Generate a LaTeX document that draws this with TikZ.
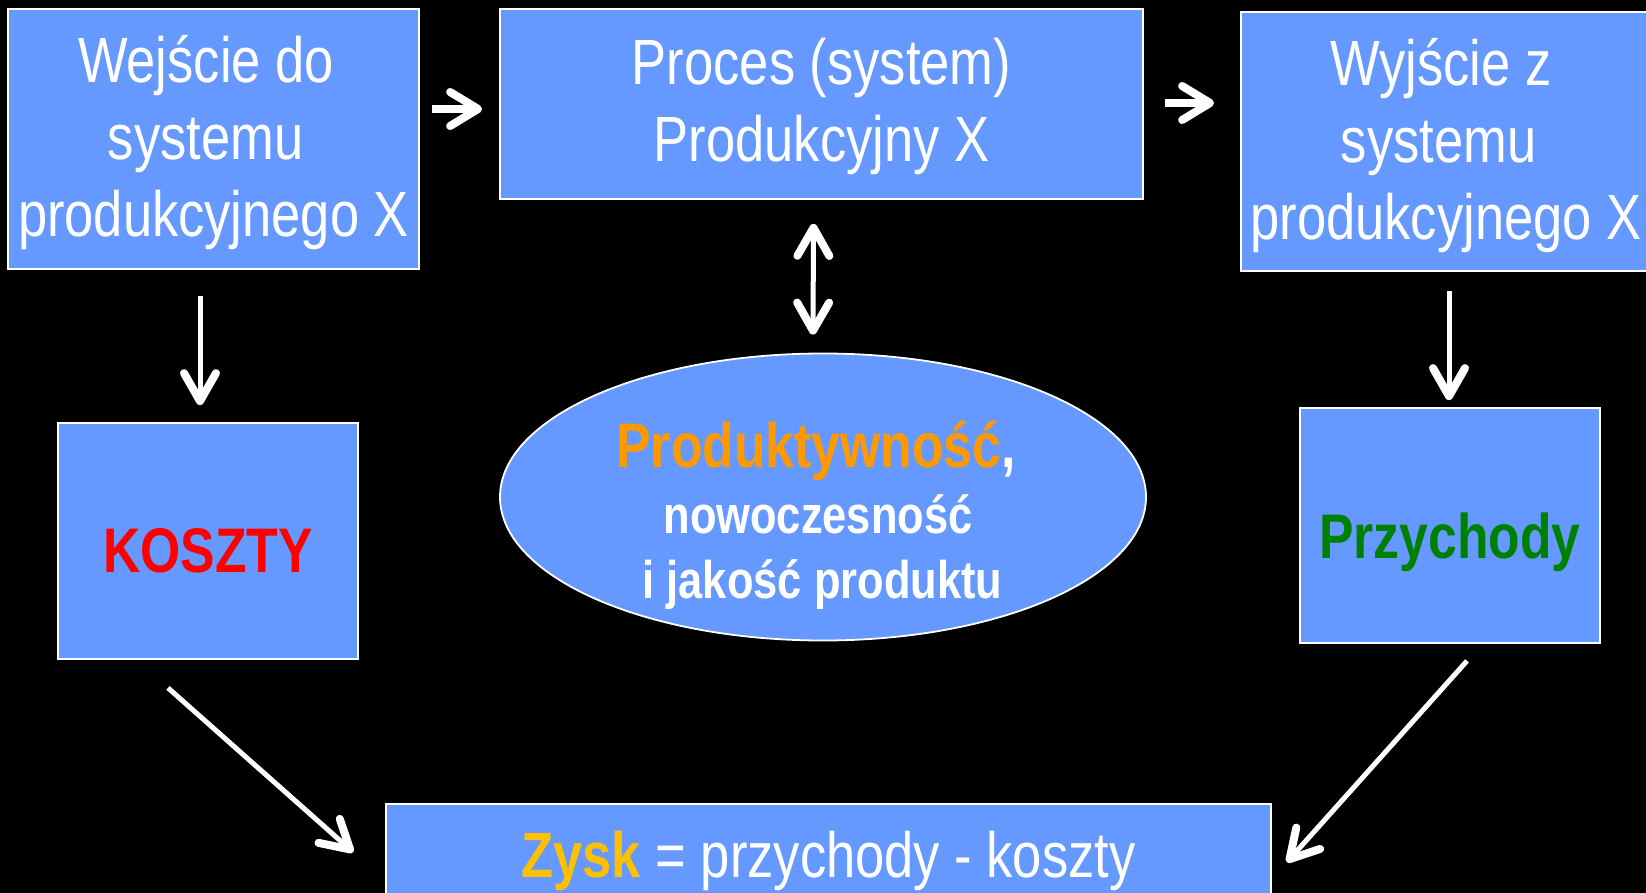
\documentclass[tikz,border=0pt]{standalone}
\usepackage{fontspec}
\setmainfont{Liberation Sans}[FakeStretch=0.82]
\usetikzlibrary{shapes.geometric,arrows.meta,calc}
\definecolor{boxblue}{RGB}{102,153,255}
\definecolor{prodorange}{RGB}{255,153,0}
\definecolor{zyskgold}{RGB}{255,192,0}
\definecolor{revgreen}{RGB}{0,128,0}
\begin{document}
\begin{tikzpicture}[x=1pt,y=-1pt,
  box/.style={rectangle, fill=boxblue, draw=white, line width=1.8pt, inner sep=0pt,
    align=center, text=white, font=\fontsize{64}{77}\selectfont},
  boldbig/.style={font=\fontsize{63}{75}\selectfont\bfseries},
  ellline/.style={anchor=base, inner sep=0pt, text=white, font=\fontsize{53}{62}\selectfont\bfseries},
  arrthick/.style={draw=white, line width=8pt,
    -{Straight Barb[length=28pt, width=34pt, line width=8pt, round]}},
  arrthin/.style={draw=white, line width=5pt,
    -{Straight Barb[length=28pt, width=32pt, line width=8pt, round]}},
  arrboth/.style={draw=white, line width=5pt,
    {Straight Barb[length=28pt, width=32pt, line width=8pt, round]}-{Straight Barb[length=28pt, width=32pt, line width=8pt, round]}}
]
\fill[black] (0,0) rectangle (1646,893);
\useasboundingbox (0,0) rectangle (1646,893);
\clip (0,0) rectangle (1646,893);

\node[box, minimum width=411pt, minimum height=260pt] (in) at (213.5,139)
  {\rule{0pt}{55pt}Wejście do\rule{15pt}{0pt}\\systemu\rule{16pt}{0pt}\\produkcyjnego X};
\node[box, minimum width=643pt, minimum height=190pt] (proc) at (821.5,104)
  {\rule{0pt}{51pt}Proces (system)\\Produkcyjny X};
\node[box, minimum width=410pt, minimum height=259pt] (out) at (1446,141.5)
  {\rule{0pt}{55pt}Wyjście z\rule{10pt}{0pt}\\systemu\rule{15pt}{0pt}\\produkcyjnego X};
\node[box, boldbig, text=red, minimum width=300pt, minimum height=236pt,
  text height=62pt, text depth=0pt] (cost) at (208,541) {KOSZTY};
\node[box, boldbig, text=revgreen, minimum width=300pt, minimum height=235pt,
  text height=65pt, text depth=0pt] (rev) at (1450,525.5) {Przychody};
\node[ellipse, fill=boxblue, draw=white, line width=1.8pt, inner sep=0pt,
  minimum width=646pt, minimum height=287pt] (ell) at (823,497) {};
\node[ellline, font=\fontsize{63}{75}\selectfont\bfseries] (l1) at (816,467)
  {\textcolor{prodorange}{Produktywność},};
\node[ellline] (l2) at (818,533) {nowoczesność};
\node[ellline] (l3) at (822.5,598) {i jakość produktu};
\node[box, minimum width=885pt, minimum height=126pt, text height=20pt, text depth=0pt]
  (profit) at (828.5,867) {\textbf{\textcolor{zyskgold}{Zysk}} = przychody - koszty};

\draw[arrthick] ($(in.east|-proc.west)+(12,5)$) -- ($(proc.west)+(-17,5)$);
\draw[arrthick] ($(proc.east)+(21,-1)$) -- ($(proc.east-|out.west)+(-26,-1)$);
\draw[arrboth] ($(proc.south)+(-8,24)$) -- ($(ell.north)+(-10,-18)$);
\draw[arrthin] ($(in.south)+(-13.5,26)$) -- ($(cost.north)+(-8,-17)$);
\draw[arrthin] ($(out.south)+(3,19)$) -- ($(rev.north)+(-1,-7)$);
\draw[arrthin] ($(cost.south)+(-40,28)$) -- ($(profit.north west)+(-32,49)$);
\draw[arrthin] ($(rev.south)+(17,17)$) -- ($(profit.north east)+(15,59)$);
\end{tikzpicture}
\end{document}
